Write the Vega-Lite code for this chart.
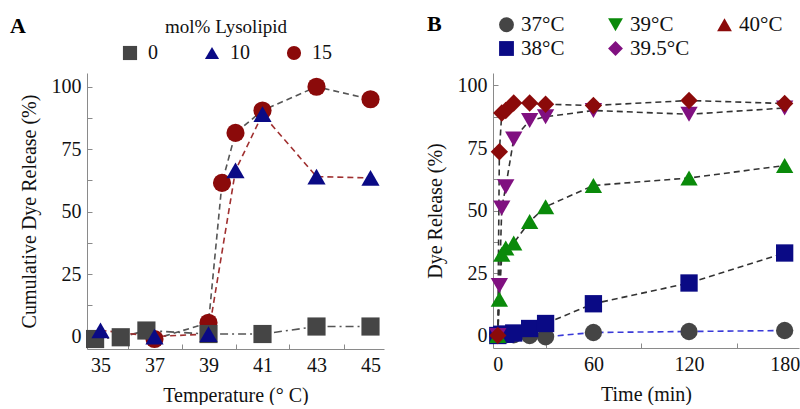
{
  "$schema": "https://vega.github.io/schema/vega-lite/v6.json",
  "padding": {"left": 9, "top": 13, "right": 0, "bottom": 0},
  "background": "white",
  "spacing": 41,
  "resolve": {
    "scale": {"fill": "independent", "shape": "independent", "stroke": "independent", "strokeDash": "independent"},
    "legend": {"fill": "independent", "shape": "independent", "stroke": "independent", "strokeDash": "independent"}
  },
  "config": {
    "view": {"stroke": null},
    "font": "Liberation Serif",
    "axis": {
      "grid": false,
      "domainColor": "#8a8a8a",
      "tickColor": "#8a8a8a",
      "labelFont": "Liberation Serif",
      "titleFont": "Liberation Serif",
      "labelFontSize": 20,
      "titleFontSize": 20,
      "titleFontWeight": "normal",
      "labelFontWeight": "normal",
      "labelColor": "#111",
      "titleColor": "#111",
      "tickSize": -5,
      "labelPadding": 11
    },
    "legend": {
      "labelFont": "Liberation Serif",
      "titleFont": "Liberation Serif",
      "labelColor": "#111",
      "titleColor": "#111"
    },
    "title": {"font": "Liberation Serif", "color": "#000"}
  },
  "datasets": {
    "temperature": [
      {"lipid": "15", "temp": 37, "release": -1},
      {"lipid": "15", "temp": 39, "release": 5.5},
      {"lipid": "15", "temp": 39.5, "release": 61.5},
      {"lipid": "15", "temp": 40, "release": 81.5},
      {"lipid": "15", "temp": 41, "release": 90.5},
      {"lipid": "15", "temp": 43, "release": 100},
      {"lipid": "15", "temp": 45, "release": 95},
      {"lipid": "0", "temp": 34.8, "release": -1},
      {"lipid": "0", "temp": 35.75, "release": -0.3},
      {"lipid": "0", "temp": 36.7, "release": 2.4},
      {"lipid": "0", "temp": 39, "release": 1},
      {"lipid": "0", "temp": 41, "release": 1},
      {"lipid": "0", "temp": 43, "release": 4},
      {"lipid": "0", "temp": 45, "release": 4},
      {"lipid": "10", "temp": 35, "release": 2.5},
      {"lipid": "10", "temp": 37, "release": 0},
      {"lipid": "10", "temp": 39, "release": 1},
      {"lipid": "10", "temp": 40, "release": 66.5},
      {"lipid": "10", "temp": 41, "release": 89},
      {"lipid": "10", "temp": 43, "release": 64},
      {"lipid": "10", "temp": 45, "release": 63.5}
    ],
    "time": [
      {"series": "37°C", "t": 0, "release": 0.3},
      {"series": "37°C", "t": 2.5, "release": 0.3},
      {"series": "37°C", "t": 5, "release": 0.3},
      {"series": "37°C", "t": 10, "release": 0.3},
      {"series": "37°C", "t": 20, "release": 0},
      {"series": "37°C", "t": 30, "release": -0.5},
      {"series": "37°C", "t": 60, "release": 1.2},
      {"series": "37°C", "t": 120, "release": 1.6},
      {"series": "37°C", "t": 180, "release": 2},
      {"series": "38°C", "t": 0, "release": 0},
      {"series": "38°C", "t": 2.5, "release": 0.5},
      {"series": "38°C", "t": 5, "release": 0.5},
      {"series": "38°C", "t": 10, "release": 1},
      {"series": "38°C", "t": 20, "release": 2.8},
      {"series": "38°C", "t": 30, "release": 4.8},
      {"series": "38°C", "t": 60, "release": 12.7},
      {"series": "38°C", "t": 120, "release": 21},
      {"series": "38°C", "t": 180, "release": 33},
      {"series": "39°C", "t": 0, "release": 0},
      {"series": "39°C", "t": 1, "release": 14.5},
      {"series": "39°C", "t": 2.5, "release": 32.5},
      {"series": "39°C", "t": 5, "release": 35},
      {"series": "39°C", "t": 10, "release": 37},
      {"series": "39°C", "t": 20, "release": 45.6},
      {"series": "39°C", "t": 30, "release": 51.5},
      {"series": "39°C", "t": 60, "release": 60},
      {"series": "39°C", "t": 120, "release": 63},
      {"series": "39°C", "t": 180, "release": 68},
      {"series": "39.5°C", "t": 0, "release": 0},
      {"series": "39.5°C", "t": 1, "release": 20},
      {"series": "39.5°C", "t": 2.5, "release": 51},
      {"series": "39.5°C", "t": 5, "release": 59.5},
      {"series": "39.5°C", "t": 10, "release": 78.6},
      {"series": "39.5°C", "t": 20, "release": 86},
      {"series": "39.5°C", "t": 30, "release": 87.5},
      {"series": "39.5°C", "t": 60, "release": 90},
      {"series": "39.5°C", "t": 120, "release": 88.5},
      {"series": "39.5°C", "t": 180, "release": 91},
      {"series": "40°C", "t": 0, "release": 0},
      {"series": "40°C", "t": 1, "release": 73.5},
      {"series": "40°C", "t": 2.5, "release": 89},
      {"series": "40°C", "t": 5, "release": 90},
      {"series": "40°C", "t": 10, "release": 93},
      {"series": "40°C", "t": 20, "release": 93},
      {"series": "40°C", "t": 30, "release": 92.5},
      {"series": "40°C", "t": 60, "release": 92},
      {"series": "40°C", "t": 120, "release": 94},
      {"series": "40°C", "t": 180, "release": 92.8}
    ]
  },
  "hconcat": [
    {
      "width": 297,
      "height": 276,
      "title": {"text": "A", "anchor": "start", "frame": "bounds", "fontSize": 22, "fontWeight": "bold", "offset": -20, "dx": -9},
      "data": {"name": "temperature"},
      "encoding": {
        "x": {
          "field": "temp", "type": "quantitative",
          "scale": {"domain": [34.5, 45.5], "nice": false, "zero": false},
          "axis": {
            "title": "Temperature (° C)",
            "labelFont": "Liberation Serif", "titleFont": "Liberation Serif",
            "values": [35, 36, 37, 38, 39, 40, 41, 42, 43, 44, 45],
            "labelExpr": "datum.value % 2 == 1 ? datum.label : ''",
            "tickColor": {"condition": {"test": "datum.value % 2 == 1", "value": "transparent"}, "value": "#8a8a8a"},
            "titlePadding": 10
          }
        },
        "y": {
          "field": "release", "type": "quantitative",
          "scale": {"domain": [-5, 105.5], "nice": false, "zero": false},
          "axis": {
            "title": "Cumulative Dye Release (%)",
            "labelFont": "Liberation Serif", "titleFont": "Liberation Serif",
            "values": [0, 12.5, 25, 37.5, 50, 62.5, 75, 87.5, 100],
            "labelExpr": "datum.value % 25 == 0 ? datum.label : ''",
            "titlePadding": 12
          }
        }
      },
      "layer": [
        {
          "mark": {"type": "line", "strokeWidth": 1.6},
          "encoding": {
            "stroke": {"field": "lipid", "type": "nominal", "scale": {"domain": ["15", "10", "0"], "range": ["#555555", "#a03030", "#555555"]}, "legend": null},
            "strokeDash": {"field": "lipid", "type": "nominal", "scale": {"domain": ["15", "10", "0"], "range": [[6, 4], [6, 4], [8, 4, 2, 4]]}, "legend": null}
          }
        },
        {
          "mark": {"type": "point", "filled": true, "size": 330, "opacity": 1, "strokeWidth": 0},
          "encoding": {
            "fill": {
              "field": "lipid", "type": "nominal",
              "scale": {"domain": ["0", "10", "15"], "range": ["#454545", "#0a0a85", "#8b0a0a"]},
              "legend": {
                "title": "mol% Lysolipid", "orient": "none", "legendX": 33, "legendY": -55,
                "direction": "horizontal", "titleAnchor": "middle", "titleFontSize": 19,
                "titleFontWeight": "normal", "labelFontSize": 20, "symbolSize": 200,
                "gridAlign": "all", "columnPadding": 34, "labelOffset": 8, "titlePadding": 6, "symbolOpacity": 1,
                "encode": {"symbols": {"update": {"shape": {"signal": "datum.value == '0' ? 'square' : datum.value == '10' ? 'triangle-up' : 'circle'"}}}}
              }
            },
            "shape": {"field": "lipid", "type": "nominal", "scale": {"domain": ["15", "10", "0"], "range": ["circle", "triangle-up", "square"]}, "legend": null}
          }
        }
      ]
    },
    {
      "width": 306,
      "height": 275,
      "title": {"text": "B", "anchor": "start", "frame": "bounds", "fontSize": 22, "fontWeight": "bold", "offset": -22, "dx": 2},
      "data": {"name": "time"},
      "encoding": {
        "x": {
          "field": "t", "type": "quantitative",
          "scale": {"domain": [-3, 189], "nice": false, "zero": false},
          "axis": {
            "title": "Time (min)",
            "labelFont": "Liberation Serif", "titleFont": "Liberation Serif",
            "values": [0, 30, 60, 90, 120, 150, 180],
            "labelExpr": "datum.value % 60 == 0 ? datum.label : ''",
            "tickColor": {"condition": {"test": "datum.value % 60 == 0", "value": "transparent"}, "value": "#8a8a8a"},
            "titlePadding": 10
          }
        },
        "y": {
          "field": "release", "type": "quantitative",
          "scale": {"domain": [-5, 105], "nice": false, "zero": false},
          "axis": {
            "title": "Dye Release (%)",
            "labelFont": "Liberation Serif", "titleFont": "Liberation Serif",
            "values": [0, 12.5, 25, 37.5, 50, 62.5, 75, 87.5, 100],
            "labelExpr": "datum.value % 25 == 0 ? datum.label : ''",
            "titlePadding": 12
          }
        }
      },
      "layer": [
        {
          "mark": {"type": "line", "strokeWidth": 1.6},
          "encoding": {
            "stroke": {"field": "series", "type": "nominal", "scale": {"domain": ["37°C", "38°C", "39°C", "39.5°C", "40°C"], "range": ["#3a3ad8", "#333333", "#333333", "#333333", "#333333"]}, "legend": null},
            "strokeDash": {"field": "series", "type": "nominal", "scale": {"domain": ["37°C", "38°C", "39°C", "39.5°C", "40°C"], "range": [[6, 4], [6, 4], [6, 4], [6, 4], [6, 4]]}, "legend": null}
          }
        },
        {
          "mark": {"type": "point", "filled": true, "size": 300, "opacity": 1, "strokeWidth": 0},
          "encoding": {
            "fill": {
              "field": "series", "type": "nominal",
              "scale": {"domain": ["37°C", "39°C", "40°C", "38°C", "39.5°C"], "range": ["#454545", "#0a8a0a", "#8b0a0a", "#0a0a85", "#801080"]},
              "legend": {
                "title": null, "orient": "none", "legendX": 3, "legendY": -59,
                "columns": 3, "direction": "horizontal", "gridAlign": "all",
                "labelFontSize": 21, "symbolSize": 220, "columnPadding": 24, "rowPadding": 2,
                "symbolOpacity": 1,
                "encode": {"symbols": {"update": {"shape": {"signal": "datum.value == '39°C' ? 'triangle-down' : datum.value == '40°C' ? 'triangle-up' : datum.value == '39.5°C' ? 'diamond' : datum.value == '38°C' ? 'square' : 'circle'"}}}}
              }
            },
            "shape": {"field": "series", "type": "nominal", "scale": {"domain": ["37°C", "38°C", "39°C", "39.5°C", "40°C"], "range": ["circle", "square", "triangle-up", "triangle-down", "diamond"]}, "legend": null}
          }
        }
      ]
    }
  ]
}
